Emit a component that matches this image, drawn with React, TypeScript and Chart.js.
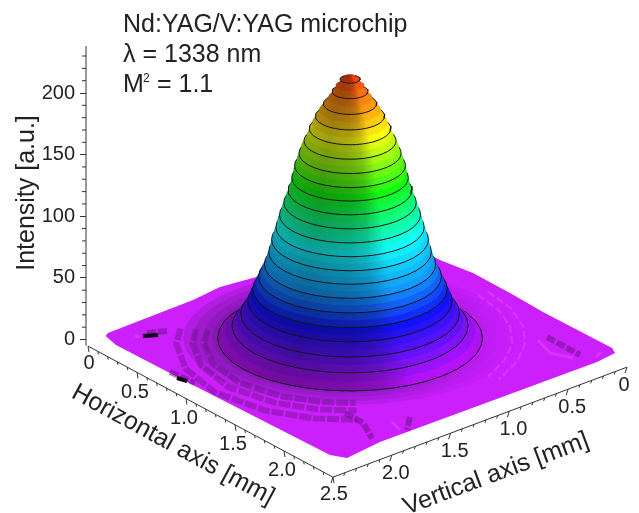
import React, { useEffect, useRef } from "react";
import { Chart, registerables } from "chart.js";

Chart.register(...registerables);

const titleLines = ["Nd:YAG/V:YAG microchip", "λ = 1338 nm"];
const beamQuality = "1.1";
const intensityTicks = [0, 50, 100, 150, 200];
const mmTicks = [0, 0.5, 1.0, 1.5, 2.0, 2.5];

// Contour levels of the mound and their radius (mm).
const levels = [0,5,10,15,20,25,30,35,40,45,50,55,60,65,70,75,80,85,90,95,100,105,110,115,120,125,130,135,140,145,150,155,160,165,170,175,180,185,190,195,200,205,210,212];
const radiiMm = [0.92,0.87,0.82,0.79,0.76,0.735,0.71,0.695,0.675,0.655,0.635,0.615,0.595,0.58,0.565,0.555,0.545,0.53,0.515,0.505,0.49,0.475,0.46,0.445,0.43,0.415,0.405,0.395,0.385,0.37,0.355,0.34,0.32,0.3,0.283,0.262,0.24,0.215,0.185,0.155,0.125,0.1,0.07,0.04];
const peakCentreMm = [1.078, 1.17];

// Edge of the sampled base, [horizontal, vertical] in mm.
const baseOutline = [[0.005,2.335],[0.03,2.375],[0.174,2.407],[0.946,2.396],[2.308,2.365],[2.413,2.308],[2.372,1.994],[2.385,0.159],[2.36,-0.015],[2.291,-0.047],[1.597,-0.038],[1.245,-0.051],[0.865,-0.053],[0.58,-0.009],[0,0],[0,1.075],[-0.04,1.344],[-0.008,1.6]];

// Ripples on the base: angle (deg) and radius (mm).
const rippleAngles = [188,175,155,135,115,100,88];
const rippleRadii = [
  [1.0,1.02,1.05,1.09,1.12,1.13,1.13],
  [1.08,1.1,1.14,1.2,1.24,1.26,1.26],
  [1.19,1.21,1.26,1.33,1.39,1.42,1.42],
];
const pinkAngles = [-40,-25,-10,5,20,35];
const pinkRadii = [[1.16,1.14,1.13,1.13,1.14,1.17],[1.25,1.23,1.22,1.22,1.23,1.26]];

const blackSpots = [[[0.186,2.187],[0.238,2.103]],[[0.8,2.41],[0.876,2.388]]];
const darkPatches = [
  [[0.17,2.14],[0.231,2.02]],
  [[0.704,2.389],[0.932,2.367]],
  [[1.895,0.176],[2.235,0.179]],
  [[1.9,1.897],[2.087,1.9],[2.3,2.0]],
  [[2.217,1.61],[2.351,1.746]],
];
const pinkPatches = [
  [[0.141,2.218],[0.186,2.22]],
  [[1.89,0.249],[2.087,0.31],[2.24,0.242]],
  [[2.198,1.746],[2.321,1.781]],
  [[2.29,0.05],[2.33,0.12]],
];

const BASE = "#cb1ffb";
const hueZ = [0,15,35,60,90,130,170,190,213];
const hueH = [282,262,240,205,180,120,60,35,10];
const lightT = [0,0.25,0.5,0.62,0.74,0.92,1];
const lightV = [0.68,0.62,0.68,0.76,0.97,1,0.94];

const lerpTable = (xs: number[], ys: number[], x: number) => {
  for (let i = 1; i < xs.length; i++) {
    if (x <= xs[i]) return ys[i - 1] + ((ys[i] - ys[i - 1]) * (x - xs[i - 1])) / (xs[i] - xs[i - 1]);
  }
  return ys[ys.length - 1];
};
const hsv = (h: number, s: number, v: number) => {
  const f = (n: number) => {
    const k = (n + h / 60) % 6;
    return Math.round(255 * (v - v * s * Math.max(0, Math.min(k, 4 - k, 1))));
  };
  return `rgb(${f(5)},${f(3)},${f(1)})`;
};

// Projection of (horizontal, vertical, intensity) to the chart's two scales.
const Y_PER_UNIT = 1.2325;
const project = (h: number, v: number, z: number) => ({
  x: 382 + 98 * h - 117.6 * v,
  y: (339.5 + 6 - 236 - 52.4 * h - 44 * v) / Y_PER_UNIT + z,
});
const ringPoint = (r: number, deg: number, z: number) => {
  const c = project(peakCentreMm[0], peakCentreMm[1], z);
  const t = (deg * Math.PI) / 180;
  return { x: c.x + 144 * r * Math.cos(t), y: c.y - (57.6 * r * Math.sin(t)) / Y_PER_UNIT };
};
const ring = (r: number, z: number) => {
  const pts = [];
  for (let d = 0; d <= 360; d += 9) pts.push(ringPoint(r, d, z));
  return pts;
};

const line = (data: any[], color: string, width: number, dash: number[] = []) => ({
  data, showLine: true, pointRadius: 0, borderColor: color, borderWidth: width, borderDash: dash,
  fill: false, tension: 0, borderCapStyle: "butt",
});
const shape = (data: any[], bg: any, border?: string) => ({
  data, showLine: true, pointRadius: 0, fill: "shape", backgroundColor: bg,
  borderColor: border || "rgba(0,0,0,0)", borderWidth: border ? 1 : 0, tension: 0,
});

const FONT = '"Liberation Sans", Arial, sans-serif';

const decorations = {
  id: "decorations",
  afterDraw(chart: any) {
    const { ctx } = chart;
    const yS = chart.scales.y;
    const xS = chart.scales.x;
    ctx.save();
    ctx.strokeStyle = "#333";
    ctx.fillStyle = "#222";
    ctx.lineWidth = 1;
    const axisX = xS.getPixelForValue(86);
    const seg = (a: number, b: number, c: number, d: number) => {
      ctx.beginPath(); ctx.moveTo(a, b); ctx.lineTo(c, d); ctx.stroke();
    };
    seg(axisX, yS.getPixelForValue(238), axisX, yS.getPixelForValue(-5));
    for (let t = 10; t <= 230; t += 10) {
      if (t % 50) seg(axisX - 4, yS.getPixelForValue(t), axisX, yS.getPixelForValue(t));
    }
    // floor axes
    const hAt = (h: number) => project(h, 2.5, -5);
    const vAt = (v: number) => project(2.5, v, -5);
    const px = (p: any) => [xS.getPixelForValue(p.x), yS.getPixelForValue(p.y)];
    const [a0, a1] = px(hAt(0));
    const [b0, b1] = px(hAt(2.5));
    const [c0, c1] = px(vAt(0));
    seg(a0, a1, b0, b1);
    seg(b0, b1, c0, c1);
    for (let i = 0; i <= 25; i++) {
      const m = i / 10;
      const big = i % 5 === 0;
      const [x1, y1] = px(hAt(m));
      seg(x1, y1, x1 + (big ? 1 : 0.6), y1 + (big ? 6 : 3));
      const [x2, y2] = px(vAt(m));
      seg(x2, y2, x2 - (big ? 2 : 1), y2 + (big ? 6 : 3));
    }
    ctx.textAlign = "center";
    ctx.textBaseline = "middle";
    ctx.font = `20px ${FONT}`;
    mmTicks.forEach((m, i) => {
      const label = m === 0 ? "0" : m.toFixed(1);
      const [x1, y1] = px(hAt(m));
      const edge = i === 0 || i === mmTicks.length - 1;
      ctx.fillText(label, x1 + (edge ? 1 : -2), y1 + (edge ? 17 : 20));
      if (i < mmTicks.length - 1) {
        const [x2, y2] = px(vAt(m));
        ctx.fillText(label, x2 + (i === 0 ? -3 : 4), y2 + 18);
      }
    });
    // rotated axis titles
    const rotated = (s: string, x: number, y: number, deg: number, size: number) => {
      ctx.save();
      ctx.translate(x, y);
      ctx.rotate((deg * Math.PI) / 180);
      ctx.font = `${size}px ${FONT}`;
      ctx.fillText(s, 0, 0);
      ctx.restore();
    };
    rotated("Intensity [a.u.]", 27, 193, -90, 25);
    rotated("Horizontal axis [mm]", 173, 445, 28.5, 25);
    rotated("Vertical axis [mm]", 496, 474, -20.5, 25);
    // title block
    ctx.textAlign = "left";
    ctx.textBaseline = "alphabetic";
    ctx.font = `25px ${FONT}`;
    ctx.fillText(titleLines[0], 123, 32);
    ctx.fillText(titleLines[1], 123, 62);
    ctx.fillText("M", 123, 92);
    ctx.fillText(" = " + beamQuality, 150, 92);
    ctx.font = `12px ${FONT}`;
    ctx.fillText("2", 143, 82);
    ctx.restore();
  },
};

export default function App() {
  const ref = useRef<HTMLCanvasElement>(null);
  useEffect(() => {
    const canvas = ref.current!;
    const ctx = canvas.getContext("2d")!;
    const sets: any[] = [];
    const basePts = baseOutline.map(([h, v]) => project(h, v, 0));
    basePts.push(basePts[0]);
    sets.push(shape(basePts, BASE));

    pinkPatches.forEach((p) => sets.push(line(p.map(([h, v]) => project(h, v, 0)), "rgba(235,70,255,0.55)", 3)));
    pinkRadii.forEach((rs) =>
      sets.push(line(rs.map((r, i) => ringPoint(r, pinkAngles[i], 0)), "rgba(235,70,255,0.5)", 2.5, [8, 3]))
    );
    darkPatches.forEach((p) => sets.push(line(p.map(([h, v]) => project(h, v, 0)), "rgba(110,20,140,0.55)", 6, [9, 2])));
    rippleRadii.forEach((rs) =>
      sets.push(line(rs.map((r, i) => ringPoint(r, rippleAngles[i], 0)), "rgba(120,20,150,0.5)", 6, [12, 2]))
    );
    blackSpots.forEach((p) => sets.push(line(p.map(([h, v]) => project(h, v, 0)), "#0a0010", 4)));

    [1.16, 1.09, 1.02, 0.96].forEach((r) => {
      const p = ring(r, 0);
      const g = ctx.createLinearGradient(350 - 144 * r, 0, 350 + 144 * r, 0);
      g.addColorStop(0, "rgba(90,20,130,0.22)");
      g.addColorStop(0.6, "rgba(110,20,170,0.2)");
      g.addColorStop(1, "rgba(150,20,220,0.05)");
      sets.push(shape(p, g));
    });

    levels.forEach((z, i) => {
      const r = radiiMm[i];
      const pts = ring(r, z);
      const c = project(peakCentreMm[0], peakCentreMm[1], z);
      const g = ctx.createLinearGradient(c.x - 144 * r, 0, c.x + 144 * r, 0);
      const hue = lerpTable(hueZ, hueH, z);
      lightT.forEach((t, k) => g.addColorStop(t, hsv(hue, 0.93, lightV[k])));
      sets.push(shape(pts, g, z % 10 === 0 ? "#141414" : undefined));
    });

    const chart = new Chart(canvas, {
      type: "scatter",
      data: { datasets: sets.reverse() },
      plugins: [decorations],
      options: {
        animation: false,
        responsive: false,
        showLine: true,
        layout: { padding: 0 },
        plugins: { legend: { display: false }, tooltip: { enabled: false }, title: { display: false } },
        scales: {
          x: { type: "linear", display: false, min: 86, max: 639 },
          y: {
            type: "linear",
            position: "left",
            min: -(513 - 339.5) / Y_PER_UNIT,
            max: 339.5 / Y_PER_UNIT,
            afterBuildTicks: (s: any) => { s.ticks = intensityTicks.map((value) => ({ value })); },
            afterFit: (s: any) => { s.width = 86; s.paddingTop = 0; s.paddingBottom = 0; },
            border: { display: false },
            grid: { drawOnChartArea: false, drawTicks: true, tickLength: 6, color: "#333" },
            ticks: { font: { family: FONT, size: 20 }, color: "#222", padding: 5, autoSkip: false, maxRotation: 0 },
          },
        },
      },
    } as any);
    return () => chart.destroy();
  }, []);
  return (
    <canvas ref={ref} width={639} height={513} style={{ position: "absolute", left: 0, top: 0, display: "block" }} />
  );
}
